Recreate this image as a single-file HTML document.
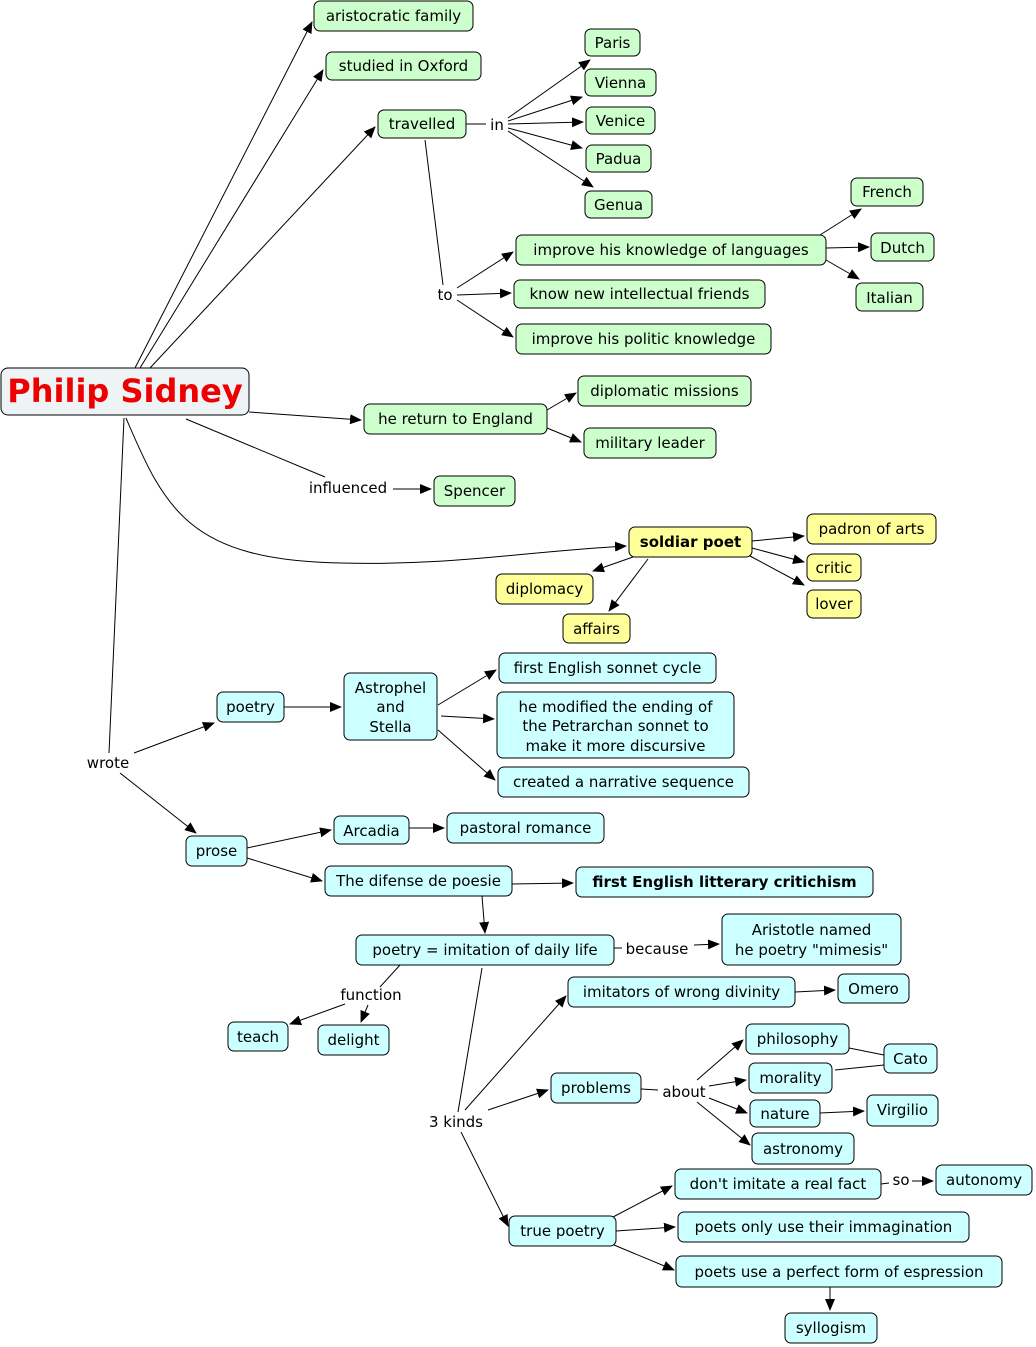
<!DOCTYPE html>
<html><head><meta charset="utf-8"><style>
html,body{margin:0;padding:0;background:#fff;}
svg{display:block;font-family:"DejaVu Sans","Liberation Sans",sans-serif;}
.g{fill:#ccffcc;stroke:#000;stroke-width:1;}
.y{fill:#ffff99;stroke:#000;stroke-width:1;}
.c{fill:#ccffff;stroke:#000;stroke-width:1;}
text{font-size:15px;fill:#000;}
.l{stroke:#000;stroke-width:1;fill:none;}
.a{stroke:#000;stroke-width:1;fill:none;marker-end:url(#ar);}
</style></head><body>
<svg width="1036" height="1347" viewBox="0 0 1036 1347" xmlns="http://www.w3.org/2000/svg">
<defs><marker id="ar" markerWidth="12" markerHeight="10" refX="11" refY="5" orient="auto" markerUnits="userSpaceOnUse"><path d="M0,0 L12,5 L0,10 z" fill="#000"/></marker></defs>
<!-- lines -->
<line class="a" x1="135" y1="368" x2="312" y2="22"/>
<line class="a" x1="140" y1="368" x2="323" y2="70"/>
<line class="a" x1="150" y1="368" x2="375" y2="127"/>
<line class="l" x1="466" y1="124" x2="486" y2="124"/>
<line class="a" x1="508" y1="118" x2="590" y2="60"/>
<line class="a" x1="508" y1="121" x2="582" y2="97"/>
<line class="a" x1="508" y1="124" x2="583" y2="122"/>
<line class="a" x1="508" y1="128" x2="582" y2="148"/>
<line class="a" x1="508" y1="131" x2="593" y2="187"/>
<line class="l" x1="425" y1="140" x2="443" y2="285"/>
<line class="a" x1="457" y1="288" x2="513" y2="252"/>
<line class="a" x1="457" y1="295" x2="511" y2="293"/>
<line class="a" x1="457" y1="300" x2="513" y2="337"/>
<line class="a" x1="820" y1="235" x2="861" y2="209"/>
<line class="a" x1="826" y1="248" x2="869" y2="247"/>
<line class="a" x1="826" y1="260" x2="859" y2="279"/>
<line class="a" x1="249" y1="412" x2="361" y2="420"/>
<line class="a" x1="547" y1="410" x2="576" y2="393"/>
<line class="a" x1="547" y1="428" x2="581" y2="442"/>
<line class="l" x1="186" y1="419" x2="325" y2="477"/>
<line class="a" x1="393" y1="489" x2="431" y2="489"/>
<path class="a" d="M126 418 C 165 510, 190 560, 340 563 C 450 566, 520 552, 626 546"/>
<line class="a" x1="752" y1="541" x2="804" y2="536"/>
<line class="a" x1="752" y1="548" x2="804" y2="562"/>
<line class="a" x1="750" y1="556" x2="804" y2="585"/>
<line class="a" x1="633" y1="557" x2="593" y2="571"/>
<line class="a" x1="648" y1="559" x2="609" y2="611"/>
<line class="l" x1="124" y1="418" x2="109" y2="753"/>
<line class="a" x1="134" y1="753" x2="214" y2="723"/>
<line class="a" x1="120" y1="773" x2="196" y2="833"/>
<line class="a" x1="284" y1="707" x2="341" y2="707"/>
<line class="a" x1="438" y1="705" x2="496" y2="670"/>
<line class="a" x1="441" y1="716" x2="494" y2="719"/>
<line class="a" x1="438" y1="730" x2="495" y2="780"/>
<line class="a" x1="247" y1="848" x2="331" y2="830"/>
<line class="a" x1="247" y1="858" x2="322" y2="881"/>
<line class="a" x1="409" y1="828" x2="444" y2="828"/>
<line class="a" x1="512" y1="884" x2="573" y2="883"/>
<line class="a" x1="482" y1="896" x2="485" y2="933"/>
<line class="l" x1="614" y1="948" x2="622" y2="948"/>
<line class="a" x1="694" y1="945" x2="719" y2="944"/>
<line class="l" x1="400" y1="965" x2="380" y2="987"/>
<line class="a" x1="345" y1="1004" x2="290" y2="1024"/>
<line class="a" x1="368" y1="1005" x2="361" y2="1022"/>
<line class="l" x1="482" y1="968" x2="458" y2="1112"/>
<line class="a" x1="465" y1="1110" x2="566" y2="996"/>
<line class="a" x1="488" y1="1110" x2="548" y2="1090"/>
<line class="a" x1="461" y1="1132" x2="508" y2="1226"/>
<line class="a" x1="795" y1="992" x2="835" y2="990"/>
<line class="l" x1="641" y1="1089" x2="658" y2="1090"/>
<line class="a" x1="697" y1="1080" x2="743" y2="1040"/>
<line class="a" x1="709" y1="1086" x2="746" y2="1080"/>
<line class="a" x1="709" y1="1098" x2="747" y2="1113"/>
<line class="a" x1="697" y1="1102" x2="750" y2="1145"/>
<line class="l" x1="849" y1="1048" x2="884" y2="1055"/>
<line class="l" x1="835" y1="1070" x2="884" y2="1065"/>
<line class="a" x1="820" y1="1113" x2="864" y2="1111"/>
<line class="a" x1="613" y1="1217" x2="672" y2="1186"/>
<line class="a" x1="616" y1="1231" x2="675" y2="1227"/>
<line class="a" x1="614" y1="1245" x2="674" y2="1270"/>
<line class="l" x1="881" y1="1184" x2="889" y2="1183"/>
<line class="a" x1="912" y1="1181" x2="933" y2="1181"/>
<line class="a" x1="830" y1="1287" x2="830" y2="1310"/>

<!-- root -->
<rect x="1" y="368" width="248" height="47" rx="7" fill="#eef3f5" stroke="#000"/>
<text x="125" y="402" text-anchor="middle" style="font-size:32px;font-weight:bold;fill:#ee0000">Philip Sidney</text>

<!-- green -->
<g text-anchor="middle">
<rect class="g" x="314" y="1" width="159" height="30" rx="6"/><text x="393.5" y="21">aristocratic family</text>
<rect class="g" x="326" y="52" width="155" height="28" rx="6"/><text x="403.5" y="71">studied in Oxford</text>
<rect class="g" x="378" y="110" width="88" height="28" rx="6"/><text x="422" y="129">travelled</text>
<rect class="g" x="585" y="29" width="55" height="27" rx="6"/><text x="612.5" y="48">Paris</text>
<rect class="g" x="585" y="69" width="71" height="27" rx="6"/><text x="620.5" y="88">Vienna</text>
<rect class="g" x="586" y="107" width="69" height="27" rx="6"/><text x="620.5" y="126">Venice</text>
<rect class="g" x="586" y="145" width="65" height="27" rx="6"/><text x="618.5" y="164">Padua</text>
<rect class="g" x="585" y="191" width="67" height="27" rx="6"/><text x="618.5" y="210">Genua</text>
<rect class="g" x="851" y="178" width="72" height="28" rx="6"/><text x="887" y="197">French</text>
<rect class="g" x="516" y="235" width="310" height="30" rx="6"/><text x="671" y="255">improve his knowledge of languages</text>
<rect class="g" x="871" y="233" width="63" height="28" rx="6"/><text x="902.5" y="253">Dutch</text>
<rect class="g" x="514" y="280" width="251" height="28" rx="6"/><text x="639.5" y="299">know new intellectual friends</text>
<rect class="g" x="856" y="283" width="67" height="28" rx="6"/><text x="889.5" y="303">Italian</text>
<rect class="g" x="516" y="324" width="255" height="30" rx="6"/><text x="643.5" y="344">improve his politic knowledge</text>
<rect class="g" x="578" y="376" width="173" height="30" rx="6"/><text x="664.5" y="396">diplomatic missions</text>
<rect class="g" x="364" y="404" width="183" height="30" rx="6"/><text x="455.5" y="424">he return to England</text>
<rect class="g" x="584" y="428" width="132" height="30" rx="6"/><text x="650" y="448">military leader</text>
<rect class="g" x="434" y="476" width="81" height="30" rx="6"/><text x="474.5" y="496">Spencer</text>

<!-- yellow -->
<rect class="y" x="629" y="527" width="123" height="30" rx="6"/><text x="690.5" y="547" style="font-weight:bold">soldiar poet</text>
<rect class="y" x="807" y="514" width="129" height="30" rx="6"/><text x="871.5" y="534">padron of arts</text>
<rect class="y" x="807" y="554" width="54" height="27" rx="6"/><text x="834" y="573">critic</text>
<rect class="y" x="807" y="590" width="54" height="28" rx="6"/><text x="834" y="609">lover</text>
<rect class="y" x="496" y="574" width="97" height="30" rx="6"/><text x="544.5" y="594">diplomacy</text>
<rect class="y" x="563" y="614" width="67" height="29" rx="6"/><text x="596.5" y="634">affairs</text>

<!-- cyan -->
<rect class="c" x="499" y="653" width="217" height="30" rx="6"/><text x="607.5" y="673">first English sonnet cycle</text>
<rect class="c" x="344" y="673" width="93" height="67" rx="6"/><text x="390.5" y="693">Astrophel</text><text x="390.5" y="712">and</text><text x="390.5" y="732">Stella</text>
<rect class="c" x="217" y="692" width="67" height="30" rx="6"/><text x="250.5" y="712">poetry</text>
<rect class="c" x="497" y="692" width="237" height="66" rx="6"/><text x="615.5" y="712">he modified the ending of</text><text x="615.5" y="731">the Petrarchan sonnet to</text><text x="615.5" y="751">make it more discursive</text>
<rect class="c" x="498" y="767" width="251" height="30" rx="6"/><text x="623.5" y="787">created a narrative sequence</text>
<rect class="c" x="334" y="816" width="75" height="28" rx="6"/><text x="371.5" y="836">Arcadia</text>
<rect class="c" x="447" y="813" width="157" height="30" rx="6"/><text x="525.5" y="833">pastoral romance</text>
<rect class="c" x="186" y="836" width="61" height="30" rx="6"/><text x="216.5" y="856">prose</text>
<rect class="c" x="325" y="866" width="187" height="30" rx="6"/><text x="418.5" y="886">The difense de poesie</text>
<rect class="c" x="576" y="867" width="297" height="30" rx="6"/><text x="724.5" y="887" style="font-weight:bold">first English litterary critichism</text>
<rect class="c" x="356" y="935" width="258" height="30" rx="6"/><text x="485" y="955">poetry = imitation of daily life</text>
<rect class="c" x="722" y="914" width="179" height="51" rx="6"/><text x="811.5" y="935">Aristotle named</text><text x="811.5" y="955">he poetry "mimesis"</text>
<rect class="c" x="568" y="977" width="227" height="30" rx="6"/><text x="681.5" y="997">imitators of wrong divinity</text>
<rect class="c" x="838" y="974" width="71" height="29" rx="6"/><text x="873.5" y="994">Omero</text>
<rect class="c" x="228" y="1022" width="60" height="29" rx="6"/><text x="258" y="1042">teach</text>
<rect class="c" x="318" y="1025" width="71" height="30" rx="6"/><text x="353.5" y="1045">delight</text>
<rect class="c" x="746" y="1024" width="103" height="30" rx="6"/><text x="797.5" y="1044">philosophy</text>
<rect class="c" x="884" y="1044" width="53" height="29" rx="6"/><text x="910.5" y="1064">Cato</text>
<rect class="c" x="749" y="1063" width="83" height="30" rx="6"/><text x="790.5" y="1083">morality</text>
<rect class="c" x="551" y="1073" width="90" height="30" rx="6"/><text x="596" y="1093">problems</text>
<rect class="c" x="750" y="1100" width="70" height="27" rx="6"/><text x="785" y="1119">nature</text>
<rect class="c" x="867" y="1095" width="71" height="31" rx="6"/><text x="902.5" y="1115">Virgilio</text>
<rect class="c" x="752" y="1133" width="102" height="31" rx="6"/><text x="803" y="1154">astronomy</text>
<rect class="c" x="675" y="1169" width="206" height="30" rx="6"/><text x="778" y="1189">don't imitate a real fact</text>
<rect class="c" x="936" y="1165" width="96" height="30" rx="6"/><text x="984" y="1185">autonomy</text>
<rect class="c" x="509" y="1216" width="107" height="30" rx="6"/><text x="562.5" y="1236">true poetry</text>
<rect class="c" x="678" y="1212" width="291" height="30" rx="6"/><text x="823.5" y="1232">poets only use their immagination</text>
<rect class="c" x="676" y="1256" width="326" height="31" rx="6"/><text x="839" y="1277">poets use a perfect form of espression</text>
<rect class="c" x="785" y="1313" width="92" height="30" rx="6"/><text x="831" y="1333">syllogism</text>

<!-- labels -->
<text x="497" y="130">in</text>
<text x="445" y="300">to</text>
<text x="348" y="493">influenced</text>
<text x="108" y="768">wrote</text>
<text x="657" y="954">because</text>
<text x="371" y="1000">function</text>
<text x="456" y="1127">3 kinds</text>
<text x="684" y="1097">about</text>
<text x="901" y="1185">so</text>
</g>
</svg>
</body></html>
